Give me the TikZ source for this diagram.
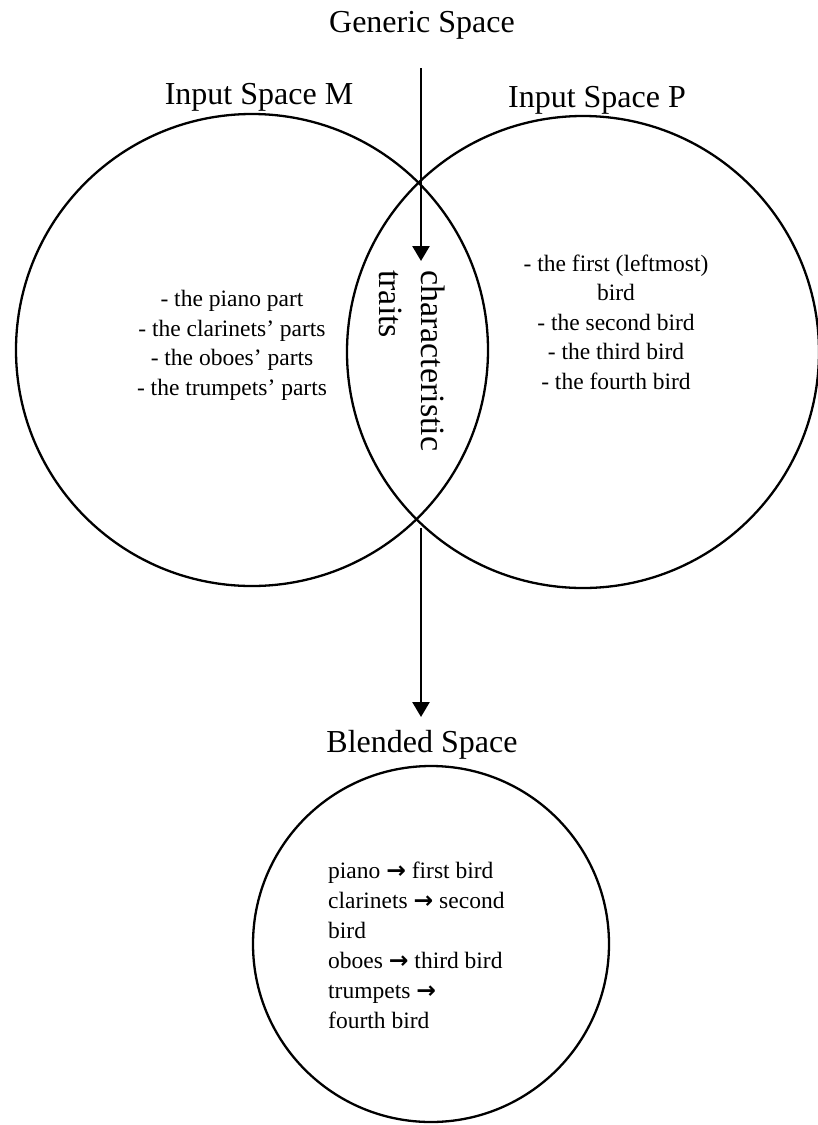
\documentclass[tikz,border=0pt]{standalone}
\usepackage{fontspec}
\setmainfont{Liberation Serif}
\newfontfamily\symfont{DejaVu Sans}
\usetikzlibrary{arrows.meta}
\newcommand\maparrow{{\symfont\bfseries →}}
\begin{document}
\begin{tikzpicture}[x=1pt,y=-1pt,
  ring/.style={draw, circle, line width=2.3pt, inner sep=0pt},
  flow/.style={line width=2.6pt, -{Triangle[width=17pt,length=15pt]}},
  title/.style={font=\fontsize{32}{38}\selectfont, anchor=base, inner sep=0pt},
  body/.style={font=\fontsize{23.5}{29.5}\selectfont, align=center, inner sep=0pt, anchor=base},
]
\useasboundingbox (0,0) rectangle (817,1125);

% the two input spaces and the blend
\node[ring, minimum size=472pt] (M) at (252,350) {};
\node[ring, minimum size=472pt] (P) at (583,352) {};
\node[ring, minimum size=356pt] (B) at (431,944) {};

% space labels
\node[title] (gen) at (422,32) {Generic Space};
\node[title] (tm) at (259,104) {Input Space M};
\node[title] (tp) at (597,107) {Input Space P};
\node[title] (tb) at (422,752) {Blended Space};

% contents of the input spaces (anchored at the baseline of the last line)
\node[body] (mtext) at (232,395) {- the piano part\\- the clarinets' parts\\- the oboes' parts\\- the trumpets' parts};
\node[body] (ptext) at (616,389) {- the first (leftmost)\\bird\\- the second bird\\- the third bird\\- the fourth bird};

% shared structure in the overlap
\node[rotate=-90, anchor=north west, align=left, inner sep=0pt,
      font=\fontsize{34}{42}\selectfont] (traits) at (445,270) {characteristic\\traits};

% blended mapping
\node[body, align=left, anchor=base west, font=\fontsize{23.5}{30}\selectfont] (btext) at (328,1028)
  {piano \maparrow{} first bird\\clarinets \maparrow{} second\\bird\\oboes \maparrow{} third bird\\trumpets \maparrow{}\\fourth bird};

% projections
\coordinate (g1) at (421,68);
\coordinate (g2) at (421,261);
\coordinate (b1) at (421,528);
\coordinate (b2) at (421,717);
\draw[flow] (g1) -- (g2);
\draw[flow] (b1) -- (b2);
\end{tikzpicture}
\end{document}
